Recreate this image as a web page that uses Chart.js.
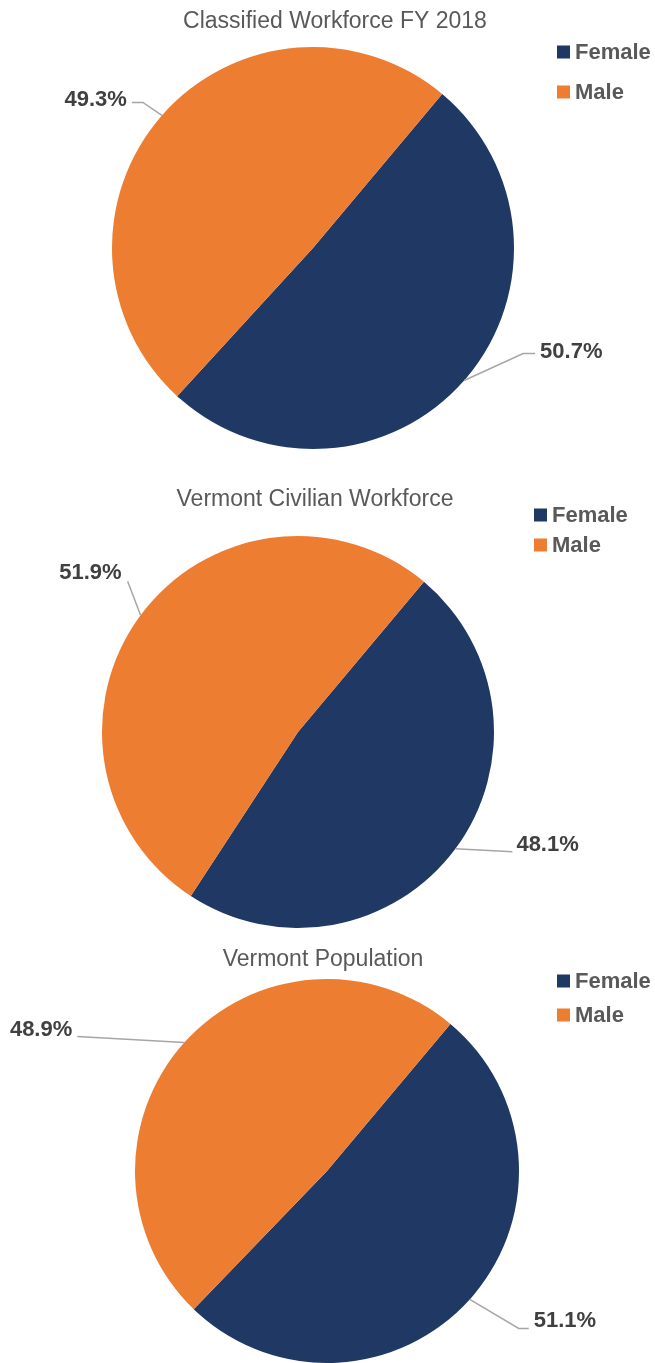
<!DOCTYPE html>
<html>
<head>
<meta charset="utf-8">
<title>Workforce gender split</title>
<script src="https://cdn.jsdelivr.net/npm/chart.js@4.4.1/dist/chart.umd.min.js"></script>
<style>
  html, body { margin: 0; padding: 0; background: #fff; }
  canvas { display: block; }
</style>
</head>
<body>
<canvas id="pie1" width="655" height="465"></canvas>
<canvas id="pie2" width="655" height="470"></canvas>
<canvas id="pie3" width="655" height="428"></canvas>
<script>
const categories = ["Female", "Male"];
const classifiedFY2018 = [50.7, 49.3];
const civilianWorkforce = [48.1, 51.9];
const vermontPopulation = [51.1, 48.9];

const sliceColors = ["#203864", "#ED7D31"];
const TEXT_GREY = "#595959";
const LABEL_GREY = "#404040";
const FONT = "'Liberation Sans', Arial, sans-serif";

// title, legend and outside labels with leader lines
const decorations = {
  id: "decorations",
  afterDraw(chart, args, opts) {
    const ctx = chart.ctx;
    ctx.save();

    // title
    ctx.fillStyle = TEXT_GREY;
    ctx.font = "23px " + FONT;
    ctx.textAlign = "center";
    ctx.textBaseline = "middle";
    ctx.fillText(opts.title, opts.titleX, opts.titleY);

    // legend
    ctx.font = "bold 22px " + FONT;
    ctx.textAlign = "left";
    chart.data.labels.forEach((lab, i) => {
      const y = opts.legendY[i];
      ctx.fillStyle = chart.data.datasets[0].backgroundColor[i];
      ctx.fillRect(opts.legendX, y - 6.5, 13, 13);
      ctx.fillStyle = TEXT_GREY;
      ctx.fillText(lab, opts.legendX + 18, y + 1);
    });

    // data labels, anchored at the middle of each arc's outer edge
    const meta = chart.getDatasetMeta(0);
    const values = chart.data.datasets[0].data;
    ctx.font = "bold 22px " + FONT;
    meta.data.forEach((arc, i) => {
      const mid = (arc.startAngle + arc.endAngle) / 2;
      const ex = arc.x + Math.cos(mid) * arc.outerRadius;
      const ey = arc.y + Math.sin(mid) * arc.outerRadius;
      const p = opts.leaders[i];
      ctx.strokeStyle = "#A6A6A6";
      ctx.lineWidth = 1.5;
      ctx.beginPath();
      ctx.moveTo(ex, ey);
      ctx.lineTo(ex + p.elbow[0], ey + p.elbow[1]);
      ctx.lineTo(ex + p.end[0], ey + p.end[1]);
      ctx.stroke();
      ctx.fillStyle = LABEL_GREY;
      ctx.textAlign = p.text[0] < 0 ? "right" : "left";
      ctx.fillText(values[i].toFixed(1) + "%", ex + p.text[0], ey + p.text[1]);
    });
    ctx.restore();
  }
};

function makePie(id, values, padding, deco) {
  return new Chart(document.getElementById(id), {
    type: "pie",
    data: {
      labels: categories,
      datasets: [{
        data: values,
        backgroundColor: sliceColors,
        borderWidth: 0
      }]
    },
    options: {
      responsive: false,
      animation: false,
      rotation: 40,
      layout: { padding: padding },
      plugins: {
        legend: { display: false },
        title: { display: false },
        tooltip: { enabled: false },
        decorations: deco
      }
    },
    plugins: [decorations]
  });
}

makePie("pie1", classifiedFY2018,
  { left: 112, right: 141, top: 47, bottom: 16 },
  {
    title: "Classified Workforce FY 2018", titleX: 335, titleY: 22,
    legendX: 557, legendY: [52, 92],
    leaders: [
      { elbow: [59, -27], end: [71, -27], text: [76, -29] },
      { elbow: [-19, -13], end: [-30, -13], text: [-35, -16] }
    ]
  });

makePie("pie2", civilianWorkforce,
  { left: 102, right: 161, top: 71, bottom: 7 },
  {
    title: "Vermont Civilian Workforce", titleX: 315, titleY: 35,
    legendX: 534, legendY: [50, 80],
    leaders: [
      { elbow: [57, 3], end: [57, 3], text: [61, -4] },
      { elbow: [-13, -34], end: [-13, -34], text: [-19, -42] }
    ]
  });

makePie("pie3", vermontPopulation,
  { left: 135, right: 136, top: 44, bottom: 0 },
  {
    title: "Vermont Population", titleX: 323, titleY: 25,
    legendX: 557, legendY: [46, 80],
    leaders: [
      { elbow: [49, 29], end: [59, 29], text: [64, 22] },
      { elbow: [-107, -6], end: [-107, -6], text: [-112, -13] }
    ]
  });
</script>
</body>
</html>
